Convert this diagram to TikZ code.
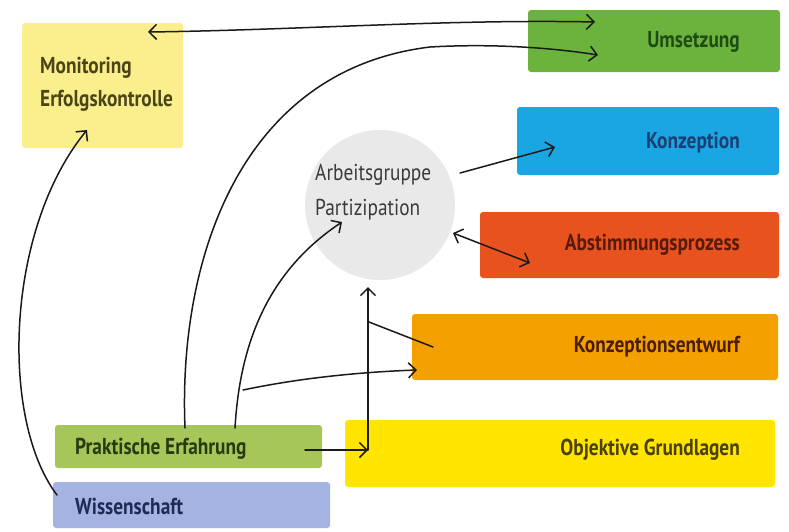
\documentclass[tikz,border=0pt]{standalone}
\usepackage{fontspec}
\newfontfamily\lbl{PT Sans}[FakeStretch=0.84]
\usetikzlibrary{arrows.meta}
\definecolor{cMon}{HTML}{FAEF8C}
\definecolor{cUms}{HTML}{6CB33E}
\definecolor{cKon}{HTML}{1AA5E3}
\definecolor{cAbs}{HTML}{E8521E}
\definecolor{cEnt}{HTML}{F4A100}
\definecolor{cObj}{HTML}{FFE500}
\definecolor{cPra}{HTML}{A6C65A}
\definecolor{cWis}{HTML}{A5B3E2}
\definecolor{cCir}{HTML}{E9E9E9}
\definecolor{tMon}{HTML}{4A4418}
\definecolor{tUms}{HTML}{1E4D12}
\definecolor{tKon}{HTML}{1B3F73}
\definecolor{tAbs}{HTML}{5A1A0A}
\definecolor{tEnt}{HTML}{4A1E0A}
\definecolor{tObj}{HTML}{4A4000}
\definecolor{tPra}{HTML}{2A3A10}
\definecolor{tWis}{HTML}{1F2A55}
\definecolor{tCir}{HTML}{3A3A3A}
\definecolor{ink}{HTML}{1A1A1A}
\tikzset{
  panel/.style={draw=none, inner sep=0pt, rounded corners=3pt},
  txt/.style={font=\lbl\bfseries\fontsize{23}{26}\selectfont, inner sep=0pt},
  ctxt/.style={font=\lbl\fontsize{23}{26}\selectfont, inner sep=0pt, text=tCir},
  conn/.style={draw=ink, line width=1.5pt, line cap=round},
  arr/.style={conn, -{Straight Barb[length=7.5pt,width=15pt,line width=1.5pt]}},
  darr/.style={conn, {Straight Barb[length=7.5pt,width=15pt,line width=1.5pt]}-{Straight Barb[length=7.5pt,width=15pt,line width=1.5pt]}}
}
\begin{document}
\begin{tikzpicture}[x=1pt,y=-1pt]
\useasboundingbox (0,0) rectangle (789,531);
\fill[white] (0,0) rectangle (789,531);
% boxes
\node[panel, fill=cMon, minimum width=161pt, minimum height=125pt] (mon) at (102.5,85.5) {};
\node[panel, fill=cUms, minimum width=252pt, minimum height=62pt] (ums) at (654,41) {};
\node[panel, fill=cKon, minimum width=262pt, minimum height=68pt] (kon) at (648,141) {};
\node[panel, fill=cAbs, minimum width=299pt, minimum height=66pt] (abs) at (629.5,245) {};
\node[panel, fill=cEnt, minimum width=366pt, minimum height=66pt] (ent) at (595,347) {};
\node[panel, fill=cObj, minimum width=430pt, minimum height=67pt] (obj) at (560,453.5) {};
\node[panel, fill=cPra, minimum width=267pt, minimum height=43pt] (pra) at (188.5,446.5) {};
\node[panel, fill=cWis, minimum width=277pt, minimum height=46pt] (wis) at (191.5,505) {};
\node[circle, fill=cCir, draw=none, minimum size=150pt, inner sep=0pt] (ag) at (380,205) {};
% texts
\node[txt, text=tMon, anchor=west] (monA) at (40,68) {Monitoring};
\node[txt, text=tMon, anchor=west] (monB) at (40,101) {Erfolgskontrolle};
\node[txt, text=tUms, anchor=east] (umsT) at (740,42) {Umsetzung};
\node[txt, text=tKon, anchor=east] (konT) at (740,143) {Konzeption};
\node[txt, text=tAbs, anchor=east] (absT) at (740,245) {Abstimmungsprozess};
\node[txt, text=tEnt, anchor=east] (entT) at (740,347) {Konzeptionsentwurf};
\node[txt, text=tObj, anchor=east] (objT) at (740,450) {Objektive Grundlagen};
\node[txt, text=tPra, anchor=west] (praT) at (75,449) {Praktische Erfahrung};
\node[txt, text=tWis, anchor=west] (wisT) at (75,506) {Wissenschaft};
\node[ctxt, anchor=west] (agA) at (315,175) {Arbeitsgruppe};
\node[ctxt, anchor=west] (agB) at (315,210) {Partizipation};
% connector end points
\coordinate (monR) at (148,32);
\coordinate (umsA) at (595,22);
\coordinate (umsB) at (598,55);
\coordinate (praA) at (185,428);
\coordinate (praB) at (235,428);
\coordinate (praC) at (305,450);
\coordinate (agIn) at (342,222);
\coordinate (br1) at (243,390);
\coordinate (entIn) at (417,370);
\coordinate (objIn) at (368,450);
\coordinate (agBot) at (368,287);
\coordinate (br2) at (369,322);
\coordinate (entIn2) at (433,347);
\coordinate (agR) at (460,173);
\coordinate (konIn) at (555,147);
\coordinate (agR2) at (453,233);
\coordinate (absIn) at (530,263);
\coordinate (wisL) at (57,495);
\coordinate (monIn) at (87,130);
% connectors
\draw[darr] (monR) .. controls (300,30) and (450,19) .. (umsA);
\draw[arr] (praA) .. controls (178,260) and (240,70) .. (430,47) .. controls (500,43) and (560,49) .. (umsB);
\draw[arr] (praB) .. controls (240,340) and (270,270) .. (agIn);
\draw[arr] (br1) .. controls (300,378) and (360,372) .. (entIn);
\draw[arr] (praC) -- (objIn);
\draw[arr] (objIn) -- (agBot);
\draw[conn] (br2) -- (entIn2);
\draw[arr] (agR) -- (konIn);
\draw[darr] (agR2) -- (absIn);
\draw[arr] (wisL) .. controls (0,420) and (5,230) .. (monIn);
\end{tikzpicture}
\end{document}
